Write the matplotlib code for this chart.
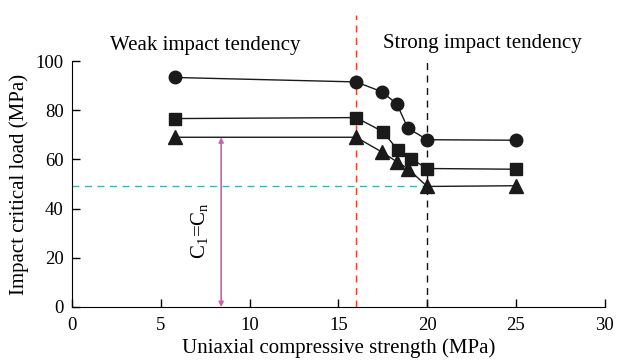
import matplotlib
matplotlib.use("Agg")
import matplotlib.pyplot as plt

plt.rcParams['font.family'] = ['Liberation Serif', 'DejaVu Serif']
plt.rcParams['mathtext.fontset'] = 'custom'
plt.rcParams['mathtext.rm'] = 'Liberation Serif'

x_circle = [5.8, 16.0, 17.45, 18.3, 18.9, 20.0, 25.0]
y_circle = [93.3, 91.5, 87.5, 82.5, 72.8, 68.0, 67.8]
x_square = [5.8, 16.0, 17.5, 18.35, 19.1, 20.0, 25.0]
y_square = [76.6, 77.0, 71.3, 63.8, 60.2, 56.3, 56.0]
x_tri = [5.8, 16.0, 17.45, 18.3, 18.9, 20.0, 25.0]
y_tri = [69.0, 69.0, 63.0, 59.0, 56.3, 49.0, 49.3]

red_x = 16.0
black_x = 20.0
cyan_y = 49.0
arrow_x = 8.4
arrow_top = 69.0

fig = plt.figure(figsize=(6.19, 3.64), dpi=100)
ax = fig.add_axes([0.1163, 0.1566, 0.8607, 0.6758])

for xs, ys, m, ms in [(x_circle, y_circle, 'o', 9),
                      (x_square, y_square, 's', 8),
                      (x_tri, y_tri, '^', 9.5)]:
    ax.plot(xs, ys, color='#1a1a1a', lw=1.0, marker=m, ms=ms,
            markerfacecolor='#1a1a1a', markeredgecolor='#1a1a1a', zorder=3)

ax.plot([red_x, red_x], [0, 118.5], ls=(0, (5, 4)), color='#ff3a1e', lw=1.0, clip_on=False, zorder=2)
ax.plot([black_x, black_x], [0, 100], ls=(0, (5, 4)), color='#111111', lw=1.0, clip_on=False, zorder=2)
ax.plot([0, black_x], [cyan_y, cyan_y], ls=(0, (5, 4)), color='#20c0c0', lw=1.0, zorder=2)
ax.annotate('', xy=(arrow_x, 0), xytext=(arrow_x, arrow_top),
            arrowprops=dict(arrowstyle='<|-|>', color='#c862b0', lw=1.2,
                            mutation_scale=7, shrinkA=0, shrinkB=0), zorder=2)
ax.text(7.2, 31, r'C$_\mathregular{1}$=C$_\mathregular{n}$', rotation=90,
        ha='center', va='center', fontsize=15)

ax.text(7.5, 106.5, 'Weak impact tendency', ha='center', va='center', fontsize=15)
ax.text(23.1, 107.3, 'Strong impact tendency', ha='center', va='center', fontsize=15)

ax.set_xlim(0, 30)
ax.set_ylim(0, 100)
ax.set_xticks([0, 5, 10, 15, 20, 25, 30])
ax.set_yticks([0, 20, 40, 60, 80, 100])
ax.spines['top'].set_visible(False)
ax.spines['right'].set_visible(False)
ax.tick_params(direction='in', length=6, width=1, labelsize=13.5)
ax.tick_params(axis='x', pad=7)
ax.tick_params(axis='y', pad=6)
ax.set_xlabel('Uniaxial compressive strength (MPa)', fontsize=15, labelpad=3)
ax.set_ylabel('Impact critical load (MPa)', fontsize=15, labelpad=5)

fig.savefig('out.png', dpi=100)
